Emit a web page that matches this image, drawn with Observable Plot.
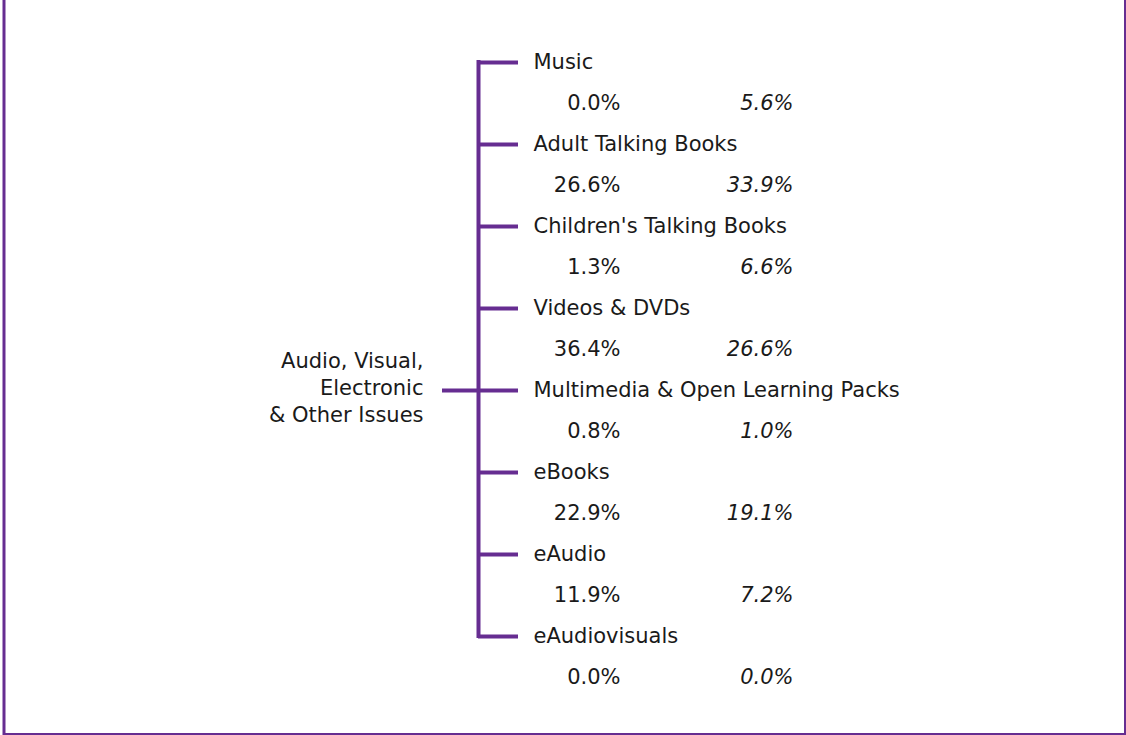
<!DOCTYPE html>
<html>
<head>
<meta charset="utf-8">
<script src="https://cdn.jsdelivr.net/npm/d3@7"></script>
<script src="https://cdn.jsdelivr.net/npm/@observablehq/plot@0.6"></script>
<style>
  html, body { margin: 0; padding: 0; background: #fff; }
  svg { display: block; }
</style>
</head>
<body>
<div id="chart"></div>
<script>
const categories = [
  "Music",
  "Adult Talking Books",
  "Children's Talking Books",
  "Videos & DVDs",
  "Multimedia & Open Learning Packs",
  "eBooks",
  "eAudio",
  "eAudiovisuals"
];
const shareA = [0.0, 26.6, 1.3, 36.4, 0.8, 22.9, 11.9, 0.0];
const shareB = [5.6, 33.9, 6.6, 26.6, 1.0, 19.1, 7.2, 0.0];
const rootLabel = "Audio, Visual,\nElectronic\n& Other Issues";
const rootRow = 4;

const purple = "#662d91";
const ink = "#1a1a1a";

const rows = categories.map((name, i) => ({name, i, a: shareA[i], b: shareB[i]}));
const last = categories.length - 1;

const chart = Plot.plot({
  width: 1126,
  height: 735,
  margin: 0,
  x: {domain: [0, 1126], range: [0, 1126], axis: null},
  y: {domain: [0, last], range: [62, 636], axis: null},
  style: {fontFamily: "'DejaVu Sans', Verdana, sans-serif", fontSize: "21px", background: "#fff"},
  marks: [
    Plot.frame({stroke: purple, strokeWidth: 3, insetLeft: 3.5, insetRight: 1, insetBottom: 1, insetTop: -10}),
    Plot.ruleX([478], {x: d => d, y1: 0, y2: last, stroke: purple, strokeWidth: 4, strokeLinecap: "square"}),
    Plot.ruleY(rows, {y: "i", x1: 478, x2: 518, stroke: purple, strokeWidth: 4}),
    Plot.ruleY([rootRow], {y: d => d, x1: 442, x2: 478, stroke: purple, strokeWidth: 4}),
    Plot.text(rows, {x: 533, y: "i", text: "name", textAnchor: "start", fill: ink}),
    Plot.text(rows, {x: 620, y: d => d.i + 0.5, text: d => d.a.toFixed(1) + "%", textAnchor: "end", fill: ink}),
    Plot.text(rows, {x: 793, y: d => d.i + 0.5, text: d => d.b.toFixed(1) + "%", textAnchor: "end", fontStyle: "italic", fill: ink}),
    Plot.text([rootLabel], {x: 423, y: rootRow, dy: -4, text: d => d, textAnchor: "end", lineHeight: 1.29, fill: ink})
  ]
});
document.getElementById("chart").append(chart);
</script>
</body>
</html>
